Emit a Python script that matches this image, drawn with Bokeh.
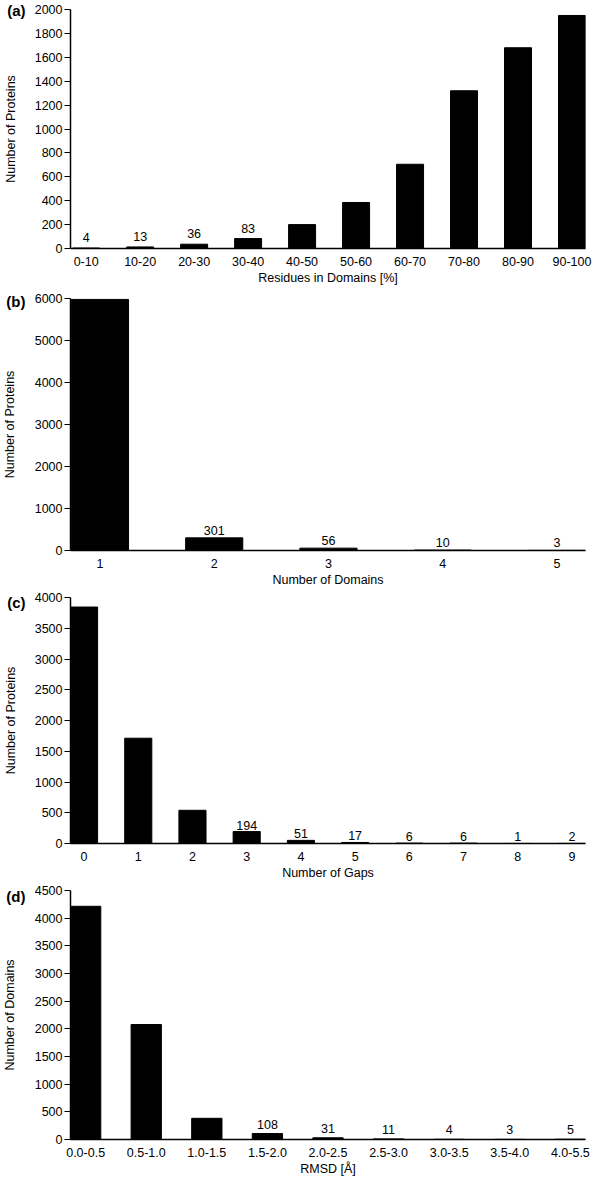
from bokeh.plotting import figure
from bokeh.layouts import column
from bokeh.models import ColumnDataSource, FixedTicker, LinearAxis, Range1d
from bokeh.embed import file_html
from bokeh.resources import INLINE
from bokeh.core.properties import value

FONT = "Liberation Sans"
FS = "12.5px"

# ---- data ----
a_cats = ["0-10", "10-20", "20-30", "30-40", "40-50", "50-60", "60-70", "70-80", "80-90", "90-100"]
a_counts = [4, 13, 36, 83, 200, 385, 705, 1320, 1680, 1950]
a_labeled = [True, True, True, True, False, False, False, False, False, False]
a_yticks = [0, 200, 400, 600, 800, 1000, 1200, 1400, 1600, 1800, 2000]

b_cats = ["1", "2", "3", "4", "5"]
b_counts = [5980, 301, 56, 10, 3]
b_labeled = [False, True, True, True, True]
b_yticks = [0, 1000, 2000, 3000, 4000, 5000, 6000]

c_cats = ["0", "1", "2", "3", "4", "5", "6", "7", "8", "9"]
c_counts = [3845, 1712, 540, 194, 51, 17, 6, 6, 1, 2]
c_labeled = [False, False, False, True, True, True, True, True, True, True]
c_yticks = [0, 500, 1000, 1500, 2000, 2500, 3000, 3500, 4000]

d_cats = ["0.0-0.5", "0.5-1.0", "1.0-1.5", "1.5-2.0", "2.0-2.5", "2.5-3.0", "3.0-3.5", "3.5-4.0", "4.0-5.5"]
d_counts = [4215, 2078, 383, 108, 31, 11, 4, 3, 5]
d_labeled = [False, False, False, True, True, True, True, True, True]
d_yticks = [0, 500, 1000, 1500, 2000, 2500, 3000, 3500, 4000, 4500]


def make_panel(tag, cats, counts, labeled, yticks, xlabel, ylabel,
               height, border_top, border_left, x_start, label_off, tag_y):
    n = len(cats)
    xs = list(range(n))
    x_end = n - 0.75
    src = ColumnDataSource(dict(x=xs, top=counts))
    lx = [x for x, f in zip(xs, labeled) if f]
    ly = [v for v, f in zip(counts, labeled) if f]
    lsrc = ColumnDataSource(dict(x=lx, y=ly, t=[str(v) for v in ly]))

    p = figure(width=596, height=height, output_backend="svg", toolbar_location=None,
               x_range=Range1d(x_start, x_end), y_range=Range1d(0, yticks[-1]),
               min_border_top=border_top, min_border_left=border_left,
               min_border_right=11, min_border_bottom=40)
    p.vbar(x="x", top="top", bottom=0, width=0.5, source=src,
           fill_color="black", line_color="black", line_width=1)
    p.text(x="x", y="y", text="t", source=lsrc, text_align="center",
           text_baseline="bottom", y_offset=label_off,
           text_font=value(FONT), text_font_size=FS, text_color="black")

    p.grid.visible = False
    p.outline_line_color = None
    p.background_fill_color = "white"

    for ax in (p.xaxis[0], p.yaxis[0]):
        ax.axis_line_color = "black"
        ax.axis_line_width = 1.5
        ax.major_label_text_font = FONT
        ax.major_label_text_font_size = FS
        ax.major_label_text_color = "black"
        ax.axis_label_text_font = FONT
        ax.axis_label_text_font_size = FS
        ax.axis_label_text_font_style = "normal"
        ax.axis_label_text_color = "black"
        ax.minor_tick_line_color = None
        ax.minor_tick_in = 0
        ax.minor_tick_out = 0

    xa = p.xaxis[0]
    xa.ticker = FixedTicker(ticks=xs)
    xa.major_label_overrides = {i: c for i, c in enumerate(cats)}
    xa.major_tick_line_color = None
    xa.major_tick_in = 0
    xa.major_tick_out = 0
    xa.major_label_standoff = 8
    xa.axis_label = xlabel
    xa.axis_label_standoff = 2

    ya = p.yaxis[0]
    ya.ticker = FixedTicker(ticks=yticks)
    ya.major_tick_line_color = "black"
    ya.major_tick_line_width = 1
    ya.major_tick_in = 0
    ya.major_tick_out = 6
    ya.major_label_standoff = 2

    # outer left axis: carries the panel tag and the y-axis title
    outer = LinearAxis(ticker=FixedTicker(ticks=[tag_y]),
                       major_label_overrides={tag_y: "(" + tag + ")"},
                       axis_line_color=None, major_tick_line_color=None,
                       major_tick_in=0, major_tick_out=0,
                       minor_tick_line_color=None, minor_tick_in=0, minor_tick_out=0,
                       major_label_standoff=6,
                       major_label_text_font=FONT, major_label_text_font_size="15px",
                       major_label_text_font_style="bold", major_label_text_color="black",
                       axis_label=ylabel, axis_label_standoff=-14,
                       axis_label_text_font=FONT, axis_label_text_font_size=FS,
                       axis_label_text_font_style="normal", axis_label_text_color="black")
    p.add_layout(outer, "left")
    return p


pa = make_panel("a", a_cats, a_counts, a_labeled, a_yticks,
                "Residues in Domains [%]", "Number of Proteins",
                288, 9, 69, -0.29, -6, 1990)
pb = make_panel("b", b_cats, b_counts, b_labeled, b_yticks,
                "Number of Domains", "Number of Proteins",
                302, 10, 67, -0.258, -3, 5930)
pc = make_panel("c", c_cats, c_counts, c_labeled, c_yticks,
                "Number of Gaps", "Number of Proteins",
                293, 7, 67, -0.25, -2, 3920)
pd = make_panel("d", d_cats, d_counts, d_labeled, d_yticks,
                "RMSD [Å]", "Number of Domains",
                296, 7, 67, -0.25, -5, 4390)

layout = column(pa, pb, pc, pd, spacing=0)
open("out.html", "w").write(file_html(layout, INLINE))
